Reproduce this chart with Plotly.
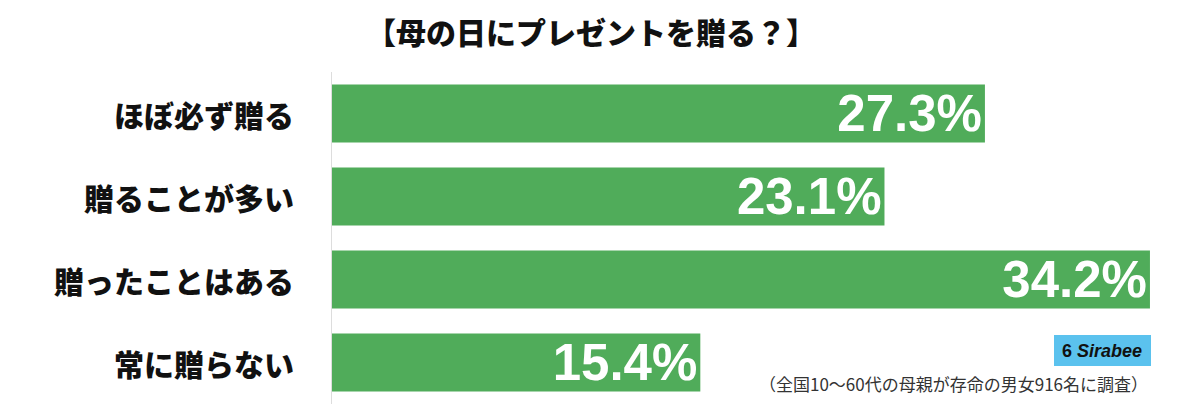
import plotly.graph_objects as go

categories = ["ほぼ必ず贈る", "贈ることが多い", "贈ったことはある", "常に贈らない"]
values = [27.3, 23.1, 34.2, 15.4]
value_labels = ["27.3%", "23.1%", "34.2%", "15.4%"]
title_text = "【母の日にプレゼントを贈る？】"
note_text = "（全国10〜60代の母親が存命の男女916名に調査）"

GREEN = "#50AC5A"
JP = "Noto Sans CJK JP"

fig = go.Figure()
fig.add_trace(go.Bar(
    x=values, y=categories, orientation="h",
    marker=dict(color=GREEN, line=dict(width=0)),
    text=value_labels, textposition="inside", insidetextanchor="end",
    constraintext="none",
    textfont=dict(family="Liberation Sans", size=51, color="white", weight="bold"),
    hoverinfo="skip",
))

for c in categories:
    fig.add_annotation(
        x=-0.042, xref="paper", y=c, yref="y", text=c, showarrow=False,
        xanchor="right", yanchor="middle",
        font=dict(family=JP, size=30, color="#111", weight=900),
    )

fig.update_layout(
    width=1200, height=405,
    margin=dict(l=324, r=15, t=64, b=9),
    paper_bgcolor="white", plot_bgcolor="white",
    bargap=0.30, showlegend=False,
    xaxis=dict(range=[0, 36], showgrid=False, zeroline=False, showticklabels=False,
               showline=False, fixedrange=True),
    yaxis=dict(autorange="reversed", showgrid=False, zeroline=False, showticklabels=False,
               showline=True, linecolor="#dddddd", linewidth=1, ticks="", fixedrange=True),
)

# title as annotation (plot area spans y 72..404 on page, 332 px tall)
fig.add_annotation(x=(591-332)/861, xref="paper", y=(404-31)/332, yref="paper",
                   text=title_text, showarrow=False, xanchor="center", yanchor="middle",
                   font=dict(family=JP, size=30, color="#111", weight=900))

# logo box
fig.add_shape(type="rect", xref="paper", yref="paper",
              x0=(1054-332)/861, x1=(1151-332)/861,
              y0=(404-366)/332, y1=(404-335)/332,
              fillcolor="#5BC2EE", line=dict(width=0), layer="above")
fig.add_annotation(x=(1102-332)/861, xref="paper", y=(404-350.5)/332, yref="paper",
                   text="<b>6 <i>Sirabee</i></b>", showarrow=False,
                   xanchor="center", yanchor="middle",
                   font=dict(family="Liberation Sans", size=18, color="#111"))
fig.add_annotation(x=(1150-332)/861, xref="paper", y=(404-383)/332, yref="paper",
                   text=note_text, showarrow=False, xanchor="right", yanchor="middle",
                   font=dict(family=JP, size=17, color="#333"))

fig.write_html("out.html")
